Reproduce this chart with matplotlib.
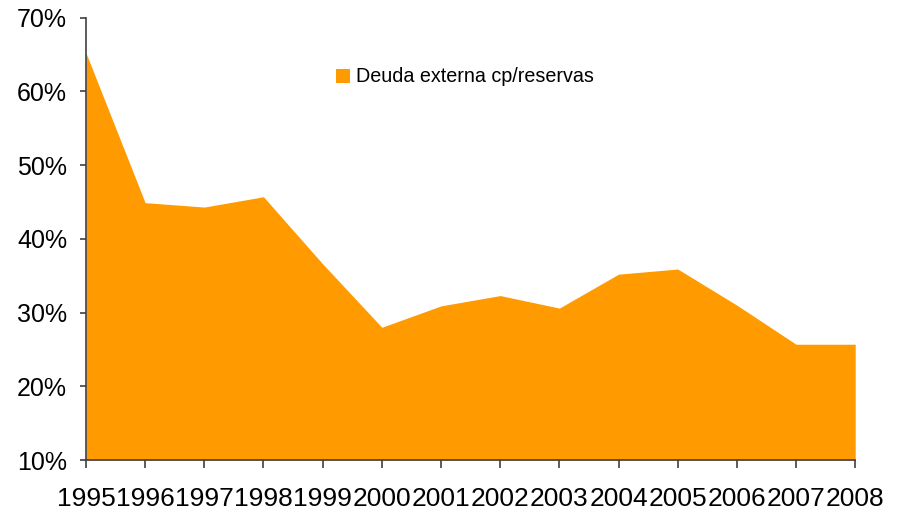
import matplotlib
matplotlib.use("Agg")
import matplotlib.pyplot as plt
from matplotlib.patches import Patch

years = [1995, 1996, 1997, 1998, 1999, 2000, 2001, 2002, 2003, 2004, 2005, 2006, 2007, 2008]
deuda_cp_reservas = [65.2, 44.9, 44.3, 45.7, 36.6, 28.0, 30.9, 32.3, 30.6, 35.2, 35.9, 31.0, 25.7, 25.7]
y_ticks = [10, 20, 30, 40, 50, 60, 70]
series_label = "Deuda externa cp/reservas"

orange = "#FF9B00"
axis_grey = "#404040"

plt.rcParams["font.family"] = ["Liberation Sans", "DejaVu Sans"]

fig = plt.figure(figsize=(9.05, 5.16), dpi=100)
ax = fig.add_axes([0.095, 0.1085, 0.85, 0.8575])

ax.fill_between(years, deuda_cp_reservas, 10, color=orange, linewidth=0)

ax.set_xlim(years[0], years[-1])
ax.set_ylim(10, 70)
ax.set_xticks(years)
ax.set_xticklabels([str(y) for y in years], fontsize=19)
ax.set_yticks(y_ticks)
ax.set_yticklabels([f"{v}%" for v in y_ticks], fontsize=18)

for side in ("top", "right"):
    ax.spines[side].set_visible(False)
for side in ("left", "bottom"):
    ax.spines[side].set_color(axis_grey)
    ax.spines[side].set_linewidth(1.2)
ax.tick_params(axis="y", direction="out", length=4.5, width=1.2, color=axis_grey, pad=9)
ax.tick_params(axis="x", direction="out", length=6, width=1.2, color=axis_grey, pad=13.5)

handle = Patch(facecolor=orange, edgecolor="none")
ax.legend([handle], [series_label], loc="center left",
          bbox_to_anchor=(318 / 905, 1 - 77 / 516), bbox_transform=fig.transFigure,
          frameon=False, handlelength=0.7, handleheight=0.7, handletextpad=0.35,
          prop={"size": 14.2})

fig.savefig("out.png", dpi=100)
